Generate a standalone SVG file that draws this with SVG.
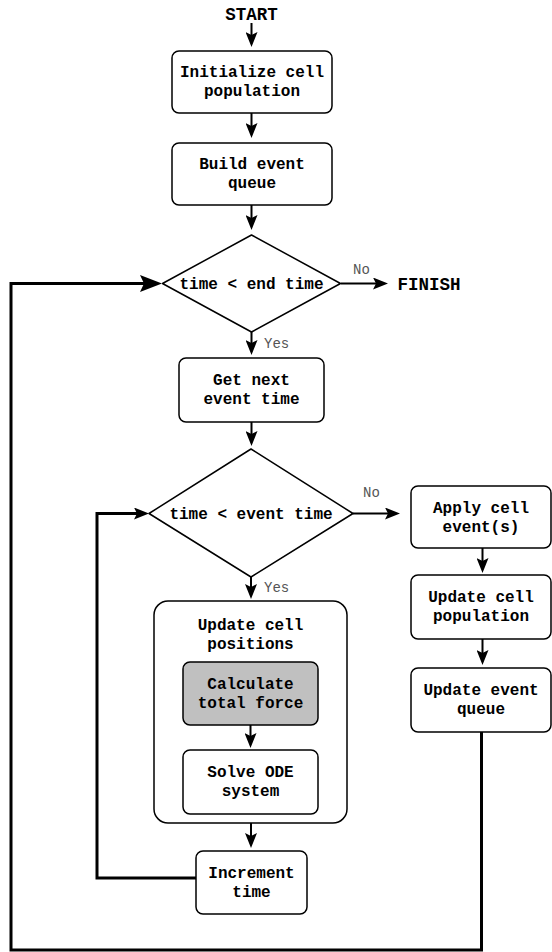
<svg xmlns="http://www.w3.org/2000/svg" width="552" height="952" viewBox="0 0 552 952">
<style>
.box{fill:#fff;stroke:#000;stroke-width:1.5}
.gray{fill:#c0c0c0}
.t{font-family:"Liberation Mono","Courier New",monospace;font-weight:bold;font-size:16px;fill:#000;text-anchor:middle}
.big{font-size:17.5px}
.lbl{font-family:"Liberation Mono","Courier New",monospace;font-size:14px;fill:#555}
.c{fill:none;stroke:#000;stroke-width:2;marker-end:url(#ah)}
.loop{fill:none;stroke:#000;stroke-width:3;stroke-linejoin:miter}
</style>
<defs>
<marker id="ah" viewBox="0 0 15 12" refX="5" refY="6" markerWidth="15" markerHeight="12" markerUnits="userSpaceOnUse" orient="auto">
<path d="M0,0 L15,6 L0,12 L3,6 z" fill="#000"/>
</marker>
<marker id="ahb" viewBox="0 0 22 17" refX="6" refY="8.5" markerWidth="22" markerHeight="17" markerUnits="userSpaceOnUse" orient="auto">
<path d="M0,0 L22,8.5 L0,17 L4,8.5 z" fill="#000"/>
</marker>
</defs>
<rect width="552" height="952" fill="#fff"/>

<g id="start"><text class="t big" x="251.5" y="19.5">START</text></g>
<g id="finish"><text class="t big" x="429" y="289.5">FINISH</text></g>

<g id="init"><rect class="box" x="172" y="51" width="160" height="62" rx="7"/>
<text class="t" x="252" y="77">Initialize cell</text><text class="t" x="252" y="96">population</text></g>

<g id="build"><rect class="box" x="172" y="143" width="160" height="62" rx="7"/>
<text class="t" x="252" y="169">Build event</text><text class="t" x="252" y="188">queue</text></g>

<g id="cond1"><polygon class="box" stroke-linejoin="round" points="251.5,235 340.5,283.5 251.5,332 162.5,283.5"/>
<text class="t" x="251.5" y="289">time &lt; end time</text></g>

<g id="getnext"><rect class="box" x="179" y="358" width="145" height="64" rx="7"/>
<text class="t" x="251.5" y="385">Get next</text><text class="t" x="251.5" y="404">event time</text></g>

<g id="cond2"><polygon class="box" stroke-linejoin="round" points="251,449 353,513.5 251,577 149,513.5"/>
<text class="t" x="251" y="519">time &lt; event time</text></g>

<g id="positions"><rect class="box" x="154" y="601" width="193" height="222" rx="14"/>
<text class="t" x="250.5" y="630">Update cell</text><text class="t" x="250.5" y="649">positions</text></g>

<g id="force"><rect class="box gray" x="183" y="662" width="135" height="63" rx="7"/>
<text class="t" x="250.5" y="688.5">Calculate</text><text class="t" x="250.5" y="707.5">total force</text></g>

<g id="ode"><rect class="box" x="183" y="750" width="135" height="64" rx="7"/>
<text class="t" x="250.5" y="777">Solve ODE</text><text class="t" x="250.5" y="796">system</text></g>

<g id="increment"><rect class="box" x="196" y="851" width="111" height="63" rx="7"/>
<text class="t" x="251.5" y="877.5">Increment</text><text class="t" x="251.5" y="896.5">time</text></g>

<g id="apply"><rect class="box" x="411" y="486" width="140" height="62" rx="7"/>
<text class="t" x="481" y="512.5">Apply cell</text><text class="t" x="481" y="531.5">event(s)</text></g>

<g id="updpop"><rect class="box" x="411" y="575" width="140" height="64" rx="7"/>
<text class="t" x="481" y="602">Update cell</text><text class="t" x="481" y="621">population</text></g>

<g id="updqueue"><rect class="box" x="411" y="668" width="140" height="64" rx="7"/>
<text class="t" x="481" y="695">Update event</text><text class="t" x="481" y="714">queue</text></g>

<g id="connectors">
<path class="c" d="M251.5,23 V37"/>
<path class="c" d="M251.5,113 V128"/>
<path class="c" d="M251.5,205 V220"/>
<path class="c" d="M341,283.5 H378"/>
<text class="lbl" x="353" y="274">No</text>
<path class="c" d="M251.5,332 V345"/>
<text class="lbl" x="264" y="348">Yes</text>
<path class="c" d="M251.5,422 V436"/>
<path class="c" d="M353,513.5 H390"/>
<text class="lbl" x="363" y="497">No</text>
<path class="c" d="M251,577 V589"/>
<text class="lbl" x="264" y="592">Yes</text>
<path class="c" d="M250.5,725 V738"/>
<path class="c" d="M251,823 V838"/>
<path class="loop" marker-end="url(#ah)" d="M196,878 H97 V513.5 H139"/>
<path class="c" d="M482.5,548 V563"/>
<path class="c" d="M482.5,639 V655"/>
<path class="loop" marker-end="url(#ahb)" d="M481.5,732 V950 H11 V283.5 H146"/>
</g>
</svg>
